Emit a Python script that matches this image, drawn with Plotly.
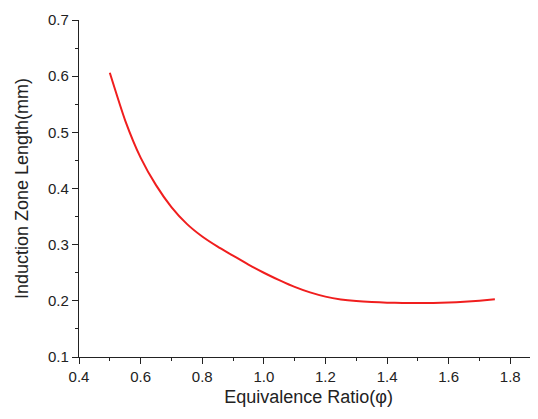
import plotly.graph_objects as go

phi = [0.50, 0.55, 0.60, 0.65, 0.70, 0.75, 0.80, 0.85, 0.90, 0.95, 1.00, 1.05, 1.10,
       1.15, 1.20, 1.25, 1.30, 1.35, 1.40, 1.45, 1.50, 1.55, 1.60, 1.65, 1.70, 1.75]
length_mm = [0.606, 0.521, 0.455, 0.406, 0.367, 0.337, 0.3145, 0.2965, 0.2805, 0.2645, 0.250,
             0.237, 0.2248, 0.215, 0.2075, 0.2025, 0.1995, 0.1978, 0.1968, 0.1962, 0.1960, 0.1962,
             0.1970, 0.1983, 0.2002, 0.2027]

x_ticks = [0.4, 0.6, 0.8, 1.0, 1.2, 1.4, 1.6, 1.8]
y_ticks = [0.1, 0.2, 0.3, 0.4, 0.5, 0.6, 0.7]

fig = go.Figure()
fig.add_trace(go.Scatter(x=phi, y=length_mm, mode="lines",
                         line=dict(color="rgb(240,30,30)", width=2, shape="spline", smoothing=0.6),
                         showlegend=False))

font = "Liberation Sans, Arial, sans-serif"
fig.update_layout(
    width=530, height=411,
    margin=dict(l=71, r=0, t=12, b=62),
    paper_bgcolor="white", plot_bgcolor="white",
    font=dict(family=font, color="#222", size=15),
    xaxis=dict(range=[0.4, 1.89], tickvals=x_ticks,
               ticktext=[f"{v:.1f}" for v in x_ticks],
               showline=True, linecolor="#222", linewidth=1.3,
               ticks="outside", ticklen=6, tickcolor="#222", tickwidth=1.3,
               minor=dict(dtick=0.1, tick0=0.5, ticks="outside", ticklen=3, tickcolor="#222", showgrid=False),
               showgrid=False, zeroline=False, automargin=False,
               title=dict(text="Equivalence Ratio(φ)", font=dict(size=18), standoff=6)),
    yaxis=dict(range=[0.1, 0.7], tickvals=y_ticks,
               ticktext=[f"{v:.1f}" for v in y_ticks],
               showline=True, linecolor="#222", linewidth=1.3,
               ticks="outside", ticklen=6, tickcolor="#222", tickwidth=1.3,
               minor=dict(dtick=0.1, tick0=0.15, ticks="outside", ticklen=3, tickcolor="#222", showgrid=False),
               showgrid=False, zeroline=False, automargin=False,
               title=dict(text="Induction Zone Length(mm)", font=dict(size=18), standoff=14)),
)
fig.write_html("out.html")
